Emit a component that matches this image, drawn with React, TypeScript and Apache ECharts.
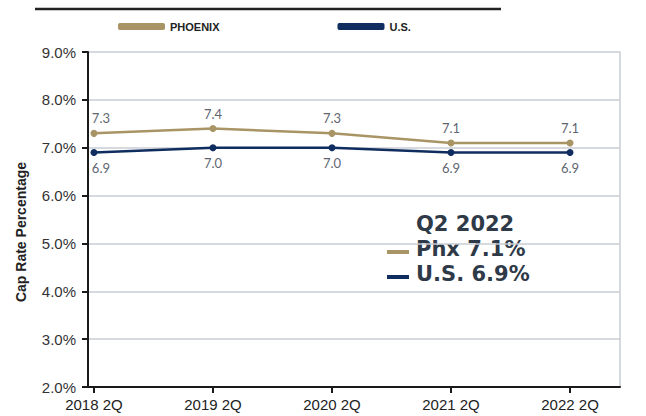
import React, { useEffect, useRef } from "react";
import * as echarts from "echarts";

const categories = ["2018 2Q", "2019 2Q", "2020 2Q", "2021 2Q", "2022 2Q"];
const phoenix = [7.3, 7.4, 7.3, 7.1, 7.1];
const us = [6.9, 7.0, 7.0, 6.9, 6.9];
const yTicks = [2, 3, 4, 5, 6, 7, 8, 9];

const GOLD = "#a89465";
const NAVY = "#0f2d5e";

export default function App() {
  const ref = useRef<HTMLDivElement>(null);
  useEffect(() => {
    if (!ref.current) return;
    const chart = echarts.init(ref.current, null, { renderer: "svg" });
    const idx = categories.map((_, i) => i);
    const labelStyle = {
      show: true,
      fontFamily: "Lato",
      fontSize: 13,
      color: "#5f6671",
      distance: 5,
      formatter: (p: any) => p.value[1].toFixed(1),
    };
    const toData = (arr: number[]) =>
      arr.map((v, i) => (i === 0 ? { value: [i, v], label: { offset: [7, 0] } } : { value: [i, v] }));
    chart.setOption({
      animation: false,
      backgroundColor: "#ffffff",
      legend: {
        top: 16,
        left: 113,
        itemWidth: 47,
        itemHeight: 7,
        itemGap: 118,
        icon: "roundRect",
        textStyle: { fontFamily: "Liberation Sans", fontWeight: "bold", fontSize: 11, color: "#222" },
        data: [
          { name: "PHOENIX", itemStyle: { color: GOLD } },
          { name: "U.S.", itemStyle: { color: NAVY } },
        ],
      },
      grid: { left: 88, right: 26, top: 52, bottom: 29, containLabel: false },
      xAxis: {
        type: "value",
        min: -0.05,
        max: 4.42,
        axisLine: { show: true, onZero: false, lineStyle: { color: "#1a1a1a", width: 2 } },
        axisTick: { show: true, customValues: idx, length: 6, lineStyle: { color: "#1a1a1a", width: 2 } },
        axisLabel: {
          customValues: idx,
          formatter: (v: number) => categories[Math.round(v)],
          fontFamily: "Liberation Sans",
          fontSize: 15,
          color: "#222",
          margin: 10,
        },
        splitLine: { show: false },
      },
      yAxis: [
        {
          type: "value",
          min: yTicks[0],
          max: yTicks[yTicks.length - 1],
          interval: 1,
          axisLine: { show: true, onZero: false, lineStyle: { color: "#1a1a1a", width: 2 } },
          axisTick: { show: true, length: 6, lineStyle: { color: "#1a1a1a", width: 2 } },
          axisLabel: {
            formatter: (v: number) => v.toFixed(1) + "%",
            fontFamily: "Liberation Sans",
            fontSize: 15,
            color: "#333",
            margin: 12,
          },
          splitLine: { show: true, lineStyle: { color: "#c8ccd2", width: 1.5 } },
        },
        {
          type: "value",
          position: "right",
          min: yTicks[0],
          max: yTicks[yTicks.length - 1],
          interval: 1,
          axisLine: { show: true, onZero: false, lineStyle: { color: "#c8ccd2", width: 1.5 } },
          axisTick: { show: false },
          axisLabel: { show: false },
          splitLine: { show: false },
        },
      ],
      series: [
        {
          name: "PHOENIX",
          type: "line",
          data: toData(phoenix),
          symbol: "circle",
          symbolSize: 7,
          itemStyle: { color: GOLD },
          lineStyle: { color: GOLD, width: 2.5 },
          label: { ...labelStyle, position: "top" },
        },
        {
          name: "U.S.",
          type: "line",
          data: toData(us),
          symbol: "circle",
          symbolSize: 7,
          itemStyle: { color: NAVY },
          lineStyle: { color: NAVY, width: 2.5 },
          label: { ...labelStyle, position: "bottom" },
        },
      ],
      graphic: [
        { type: "line", shape: { x1: 35, y1: 9, x2: 501, y2: 9 }, style: { stroke: "#222", lineWidth: 2.5 } },
        {
          type: "text",
          x: 21,
          y: 232,
          rotation: Math.PI / 2,
          style: {
            text: "Cap Rate Percentage",
            fontFamily: "Liberation Sans",
            fontWeight: "bold",
            fontSize: 14,
            fill: "#222",
            align: "center",
            verticalAlign: "middle",
          },
        },
        {
          type: "text",
          left: 416,
          top: 213,
          style: { text: "Q2 2022", fontFamily: "DejaVu Sans", fontWeight: "bold", fontSize: 21, fill: "#2f3a48" },
        },
        { type: "rect", shape: { x: 387, y: 250, width: 22, height: 4 }, style: { fill: GOLD } },
        {
          type: "text",
          left: 416,
          top: 238,
          style: { text: "Phx 7.1%", fontFamily: "DejaVu Sans", fontWeight: "bold", fontSize: 21, fill: "#2f3a48" },
        },
        { type: "rect", shape: { x: 387, y: 275, width: 22, height: 4 }, style: { fill: NAVY } },
        {
          type: "text",
          left: 416,
          top: 263,
          style: { text: "U.S. 6.9%", fontFamily: "DejaVu Sans", fontWeight: "bold", fontSize: 21, fill: "#2f3a48" },
        },
      ],
    });
    return () => chart.dispose();
  }, []);
  return <div ref={ref} style={{ width: 646, height: 416, position: "absolute", left: 0, top: 0 }} />;
}
